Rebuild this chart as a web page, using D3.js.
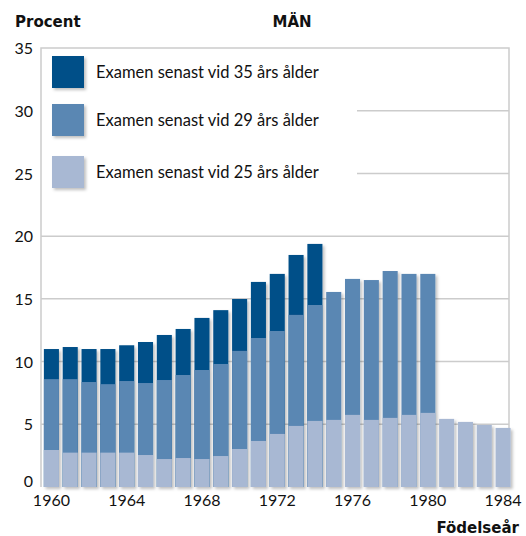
<!DOCTYPE html>
<html>
<head>
<meta charset="utf-8">
<script src="https://cdn.jsdelivr.net/npm/d3@7"></script>
<style>
  body { margin: 0; background: #fff; }
  .tick text { font-family: Lato, "Open Sans", sans-serif; font-size: 16px; fill: #111; }
  .title { font-family: "DejaVu Sans", Verdana, sans-serif; font-weight: bold; font-size: 15px; fill: #111; }
  .legend text { font-family: Lato, "Open Sans", sans-serif; font-size: 16.5px; fill: #111; }
</style>
</head>
<body>
<svg class="chart" width="526" height="536"></svg>
<script>
// data (cumulative share with exam, percent)
const years = d3.range(1960, 1985);
const by25 = [2.95, 2.74, 2.74, 2.74, 2.74, 2.55, 2.23, 2.31, 2.23, 2.47, 3.03, 3.67, 4.23, 4.87, 5.27,
              5.35, 5.75, 5.35, 5.51, 5.75, 5.91, 5.43, 5.19, 4.95, 4.71];
const by29 = [8.6, 8.6, 8.37, 8.2, 8.45, 8.29, 8.53, 8.93, 9.33, 9.81, 10.85, 11.88, 12.44, 13.72, 14.51,
              15.55, 16.59, 16.5, 17.22, 16.99, 16.99, null, null, null, null];
const by35 = [11.0, 11.16, 11.0, 11.0, 11.3, 11.56, 12.12, 12.6, 13.48, 14.1, 14.99, 16.35, 16.99, 18.5, 19.38,
              null, null, null, null, null, null, null, null, null, null];
const yTicks = [0, 5, 10, 15, 20, 25, 30, 35];
const xTicks = [1960, 1964, 1968, 1972, 1976, 1980, 1984];
const seriesNames = ["Examen senast vid 35 års ålder", "Examen senast vid 29 års ålder", "Examen senast vid 25 års ålder"];
const colors = ["#034f88", "#5a87b3", "#a8b8d3"];

var plotLeft = 41, plotRight = 509, plotTop = 48, plotBottom = 487;
var legendGapX = 357; // gridlines at 25/30 start after legend

var chart = d3.select(".chart");

// shadow filter
var defs = chart.append("defs");
var f = defs.append("filter").attr("id", "shadow").attr("x", "-30%").attr("y", "-10%").attr("width", "160%").attr("height", "130%");
f.append("feDropShadow").attr("dx", 2).attr("dy", 2).attr("stdDeviation", 1.8)
  .attr("flood-color", "#000").attr("flood-opacity", 0.25);

var x = d3.scaleBand()
  .domain(years)
  .range([42, 512.5])
  .paddingInner(0.2)
  .paddingOuter(0.1);
var y = d3.scaleLinear()
  .domain([0, 35])
  .range([plotBottom, plotTop]);

// gridlines
chart.append("g")
  .selectAll("line")
  .data(yTicks.filter(function (d) { return d > 0 && d < 35; }))
  .enter().append("line")
  .attr("x1", function (d) { return (d === 25 || d === 30) ? legendGapX : plotLeft; })
  .attr("x2", plotRight)
  .attr("y1", function (d) { return y(d); })
  .attr("y2", function (d) { return y(d); })
  .attr("stroke", "#cccccc")
  .attr("stroke-width", 1.5);

// frame
chart.append("path")
  .attr("d", "M" + plotLeft + "," + plotBottom + "V" + plotTop + "H" + plotRight + "V" + plotBottom)
  .attr("fill", "none")
  .attr("stroke", "#cccccc")
  .attr("stroke-width", 1.5);

// bars: draw cumulative layers over each other
var bars = chart.append("g").attr("filter", "url(#shadow)");
var layers = [by35, by29, by25];
layers.forEach(function (vals, li) {
  bars.append("g")
    .selectAll("rect")
    .data(years.map(function (yr, i) {
      return { year: yr, v: vals[i] };
    }).filter(function (d) { return d.v != null; }))
    .enter().append("rect")
    .attr("x", function (d) { return x(d.year); })
    .attr("width", x.bandwidth())
    .attr("y", function (d) { return y(d.v); })
    .attr("height", function (d) { return y(0) - y(d.v); })
    .attr("fill", colors[li]);
});

// y axis
var yAxis = chart.append("g")
  .attr("transform", "translate(" + plotLeft + ",0)")
  .call(d3.axisLeft(y).tickValues(yTicks).tickSize(0).tickPadding(8));
yAxis.select(".domain").remove();
yAxis.selectAll("text").attr("dy", "0.35em");
yAxis.selectAll(".tick").filter(function (d) { return d === 0; }).select("text").attr("dy", "-0.05em");

// x axis
var xAxis = chart.append("g")
  .attr("transform", "translate(0," + plotBottom + ")")
  .call(d3.axisBottom(x).tickValues(xTicks).tickSize(0).tickPadding(8));
xAxis.select(".domain").remove();

// titles
chart.append("text").attr("class", "title").attr("x", 15).attr("y", 27).text("Procent");
chart.append("text").attr("class", "title").attr("x", 292).attr("y", 27).attr("text-anchor", "middle").text("MÄN");
chart.append("text").attr("class", "title").attr("x", 519).attr("y", 533).attr("text-anchor", "end").text("Födelseår");

// legend
var legend = chart.append("g").attr("class", "legend");
var legendY = [56, 104, 156];
seriesNames.forEach(function (name, i) {
  legend.append("rect")
    .attr("x", 52).attr("y", legendY[i])
    .attr("width", 32).attr("height", 32)
    .attr("fill", colors[i])
    .attr("filter", "url(#shadow)");
  legend.append("text")
    .attr("x", 96).attr("y", legendY[i] + 16)
    .attr("dy", "0.35em")
    .text(name);
});
</script>
</body>
</html>
